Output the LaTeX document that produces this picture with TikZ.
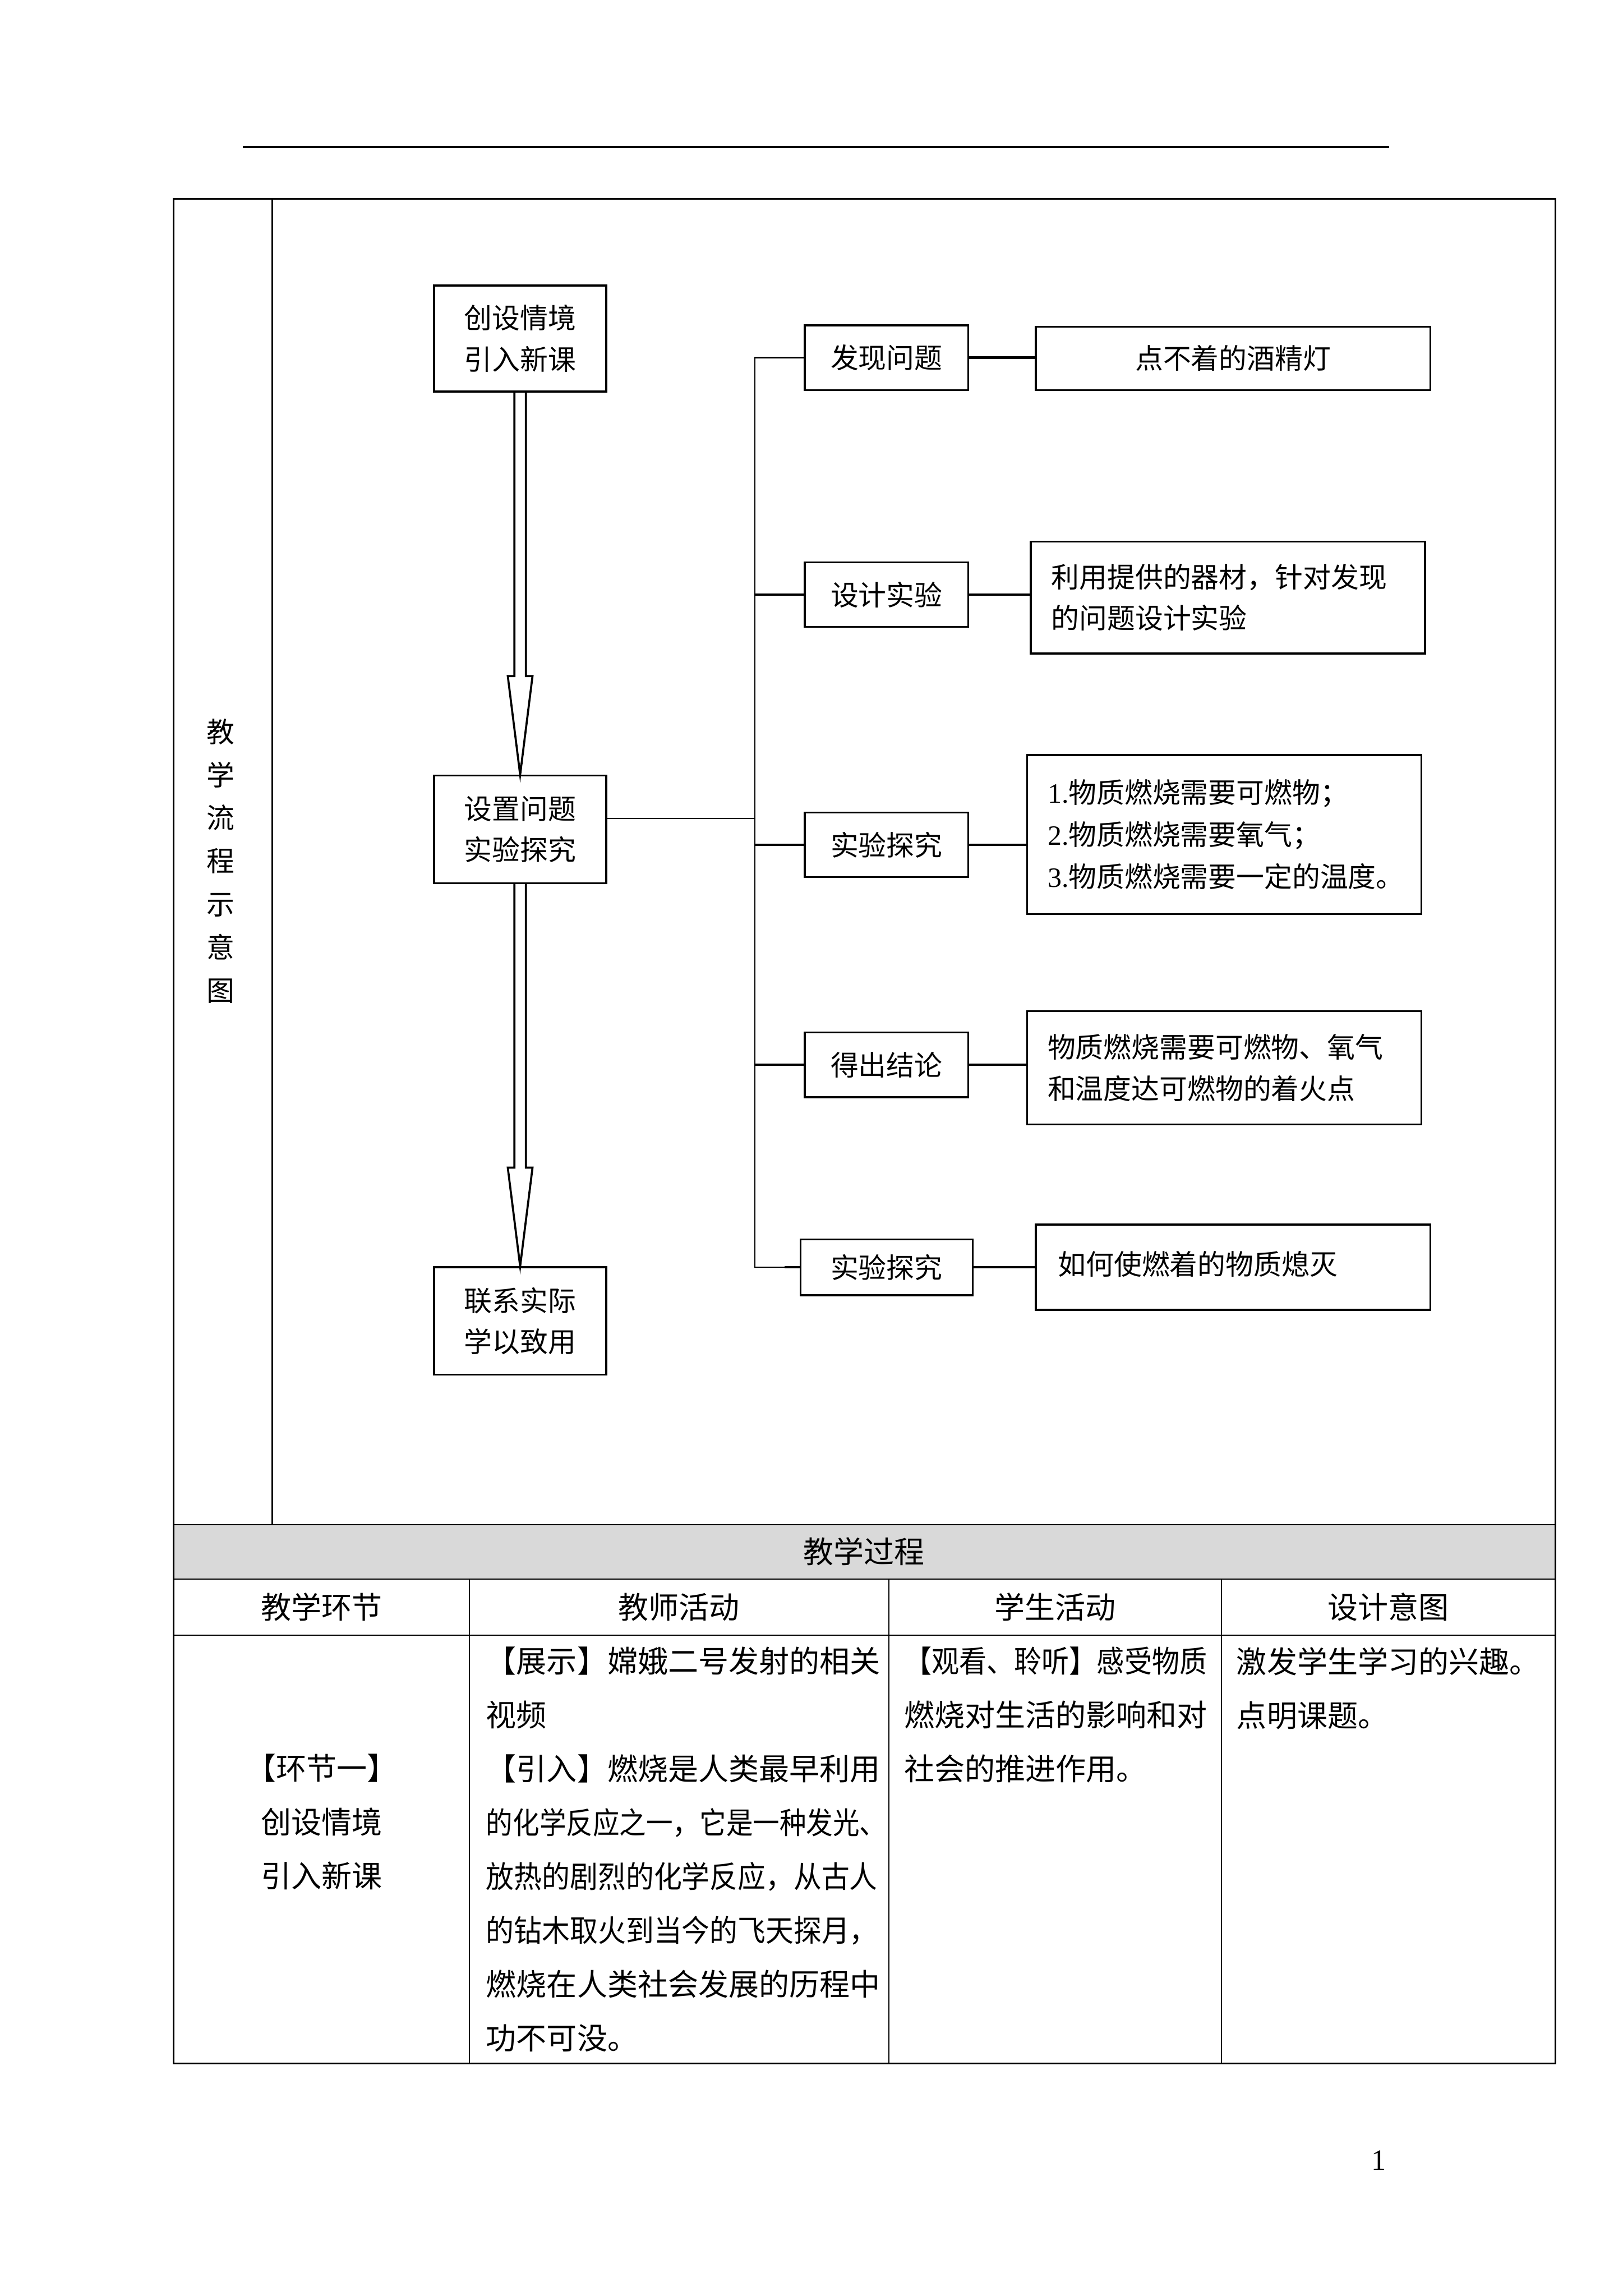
\documentclass[tikz,border=0pt]{standalone}
\usepackage{fontspec}
\usepackage{graphicx}
\setmainfont{Liberation Serif}
\newfontfamily\cjk{Noto Sans CJK SC}
\usetikzlibrary{calc}
\newcommand\fitw[2]{\resizebox{#1}{\height}{#2}}
\definecolor{band}{HTML}{D9D9D9}
\begin{document}
\begin{tikzpicture}[x=0.5pt,y=-0.5pt,
  box/.style={draw, line width=0.65pt, inner sep=0pt, font=\cjk\fontsize{9.5}{14}\selectfont, align=center},
  fbox/.style={box, minimum width=55.5pt, minimum height=22pt},
  rbox/.style={box, minimum width=134pt, align=left, text width=120pt},
  link/.style={line width=0.8pt},
  spine/.style={line width=0.5pt},
  hollow/.style={line width=0.7pt, line join=miter},
  outer/.style={line width=0.6pt},
  inner/.style={line width=0.4pt},
  tcell/.style={font=\cjk\fontsize{10.3}{18.3}\selectfont, inner sep=0pt}]
\useasboundingbox (0,0) rectangle (1103,1560);

% header rule
\draw[line width=0.75pt] (165,100) -- (944,100);

% table frame
\fill[band] (118,1036) rectangle (1057,1073);
\draw[outer] (118,135) rectangle (1057,1402);
\draw[outer] (185,135) -- (185,1036);
\draw[inner] (118,1036) -- (1057,1036);
\draw[inner] (118,1073) -- (1057,1073);
\draw[inner] (118,1111) -- (1057,1111);
\draw[inner] (319,1073) -- (319,1402);
\draw[inner] (604,1073) -- (604,1402);
\draw[inner] (830,1073) -- (830,1402);

% left vertical label
\node[font=\cjk\fontsize{9.5}{14.65}\selectfont, align=center, inner sep=0pt] (vlab) at (150,585) {教\\学\\流\\程\\示\\意\\图};

% flowchart main boxes
\node[box, minimum width=58.5pt, minimum height=36pt] (A) at (353.5,230) {创设情境\\引入新课};
\node[box, minimum width=58.5pt, minimum height=36.5pt] (B) at (353.5,563.5) {设置问题\\实验探究};
\node[box, minimum width=58.5pt, minimum height=36.5pt] (C) at (353.5,897.5) {联系实际\\学以致用};

% hollow arrows
\draw[hollow] ($(A.south)+(-3.9,0)$) -- ($(B.north)+(-3.9,-67)$) -- ($(B.north)+(-8.4,-67)$) -- (B.north) -- ($(B.north)+(8.4,-67)$) -- ($(B.north)+(3.9,-67)$) -- ($(A.south)+(3.9,0)$);
\draw[hollow] ($(B.south)+(-3.9,0)$) -- ($(C.north)+(-3.9,-67)$) -- ($(C.north)+(-8.4,-67)$) -- (C.north) -- ($(C.north)+(8.4,-67)$) -- ($(C.north)+(3.9,-67)$) -- ($(B.south)+(3.9,0)$);

% branch boxes
\node[fbox] (F1) at (602.5,243) {发现问题};
\node[fbox] (F2) at (602.5,404) {设计实验};
\node[fbox] (F3) at (602.5,574) {实验探究};
\node[fbox] (F4) at (602.5,723.5) {得出结论};
\node[box, minimum width=58.5pt, minimum height=19pt] (F5) at (602.5,861) {实验探究};

% right boxes
\node[box, minimum width=134pt, minimum height=21.5pt] (R1) at (838,243.5) {点不着的酒精灯};
\node[rbox, minimum height=38pt] (R2) at (834.5,406) {利用提供的器材，针对发现\\的问题设计实验};
\node[rbox, minimum height=54pt, font=\cjk\fontsize{9.5}{14.25}\selectfont] (R3) at (832,567) {{\rmfamily 1.}物质燃烧需要可燃物；\\{\rmfamily 2.}物质燃烧需要氧气；\\{\rmfamily 3.}物质燃烧需要一定的温度。};
\node[rbox, minimum height=38.5pt] (R4) at (832,725.5) {物质燃烧需要可燃物、氧气\\和温度达可燃物的着火点};
\node[rbox, minimum height=29pt, text width=119pt] (R5) at (838,861) {\raisebox{3pt}{如何使燃着的物质熄灭}};

% spine and connectors
\coordinate (sp) at (513,0);
\draw[spine] (F1.west) -- (F1.west -| sp) -- (sp |- F5.west) -- (F5.west);
\draw[link] (F2.west) -- (F2.west -| sp);
\draw[link] (F3.west) -- (F3.west -| sp);
\draw[link] (F4.west) -- (F4.west -| sp);
\draw[link] (F5.west) -- ++(-10,0);
\draw[spine] ([yshift=3.75pt]B.east) -- ([yshift=3.75pt]B.east -| sp);
\draw[link] (F1.east) -- (F1.east -| R1.west);
\draw[link] (F2.east) -- (F2.east -| R2.west);
\draw[link] (F3.east) -- (F3.east -| R3.west);
\draw[link] (F4.east) -- (F4.east -| R4.west);
\draw[link] (F5.east) -- (F5.east -| R5.west);

% table texts
\node[tcell] (hdr) at (587,1054) {教学过程};
\node[tcell] (h1) at (218.5,1092) {教学环节};
\node[tcell] (h2) at (461.5,1092) {教师活动};
\node[tcell] (h3) at (717,1092) {学生活动};
\node[tcell] (h4) at (943.5,1092) {设计意图};
\node[tcell, align=center] (c1) at (218.5,1238) {【环节一】\\创设情境\\引入新课};
\node[tcell, align=left, anchor=west] (c2) at (330,1256.5) {【展示】嫦娥二号发射的相关\\视频\\【引入】燃烧是人类最早利用\\\fitw{136pt}{的化学反应之一，它是一种发光、}\\\fitw{133pt}{放热的剧烈的化学反应，从古人}\\\fitw{133pt}{的钻木取火到当今的飞天探月，}\\燃烧在人类社会发展的历程中\\功不可没。};
\node[tcell, align=left, anchor=west] (c3) at (614,1165) {\fitw{103pt}{【观看、聆听】感受物质}\\燃烧对生活的影响和对\\社会的推进作用。};
\node[tcell, align=left, anchor=west] (c4) at (840,1147) {激发学生学习的兴趣。\\点明课题。};

% page number
\node[font=\fontsize{10}{12}\selectfont, inner sep=0pt] (pg) at (937,1468) {1};
\end{tikzpicture}
\end{document}
